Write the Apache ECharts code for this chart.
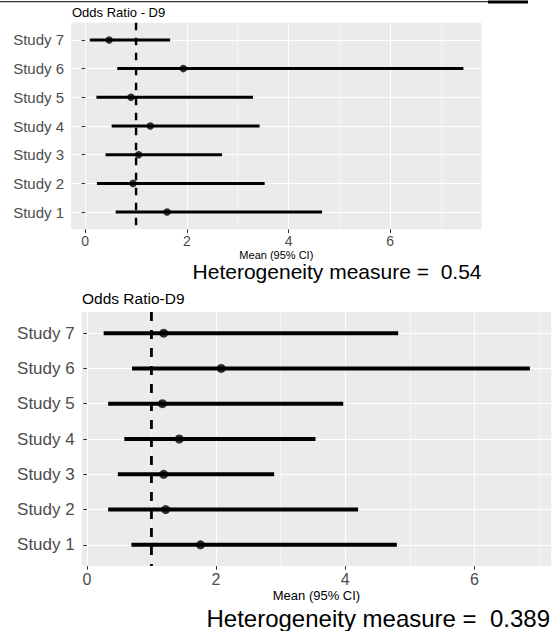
<!DOCTYPE html>
<html>
<head>
<meta charset="utf-8">
<style>
  html, body { margin: 0; padding: 0; background: #fff; }
  #chart { width: 552px; height: 631px; }
</style>
<script src="https://cdn.jsdelivr.net/npm/echarts@6/dist/echarts.min.js"></script>
</head>
<body>
<div id="chart"></div>
<script>
// ---- data ----
const studies = ['Study 1', 'Study 2', 'Study 3', 'Study 4', 'Study 5', 'Study 6', 'Study 7'];
const topLow  = [0.60, 0.23, 0.40, 0.52, 0.22, 0.63, 0.09];
const topMean = [1.61, 0.94, 1.05, 1.28, 0.90, 1.93, 0.47];
const topHigh = [4.66, 3.53, 2.69, 3.43, 3.30, 7.44, 1.67];
const botLow  = [0.69, 0.33, 0.48, 0.58, 0.33, 0.70, 0.26];
const botMean = [1.76, 1.22, 1.19, 1.43, 1.17, 2.08, 1.19];
const botHigh = [4.80, 4.20, 2.90, 3.54, 3.97, 6.86, 4.82];
const xMajorTicks = [0, 2, 4, 6];
const xMinorTicks = [1, 3, 5, 7];
const refValue = 1;
const panelTitles = ['Odds Ratio - D9', 'Odds Ratio-D9'];
const heteroValues = ['0.54', '0.389'];
const xAxisName = 'Mean (95% CI)';

const FONT = '"Liberation Sans", Arial, sans-serif';
const yPos = studies.map((s, i) => i + 1);

const panels = [
  { low: topLow, mean: topMean, high: topHigh, xmin: -0.28, xmax: 7.80,
    grid: { left: 71, top: 22.7, width: 410.7, height: 206.6 },
    yFont: 15, xFont: 14, nameFont: 11, nameGap: 20.5, barW: 3, dot: 7.5, dash: [7.5, 7.5], dashW: 2.4 },
  { low: botLow, mean: botMean, high: botHigh, xmin: -0.08, xmax: 7.19,
    grid: { left: 81.7, top: 312, width: 469.5, height: 254 },
    yFont: 17, xFont: 16, nameFont: 13, nameGap: 23, barW: 4, dot: 9, dash: [9, 9], dashW: 2.8 }
];

const grids = [], xAxes = [], yAxes = [], series = [];
panels.forEach((p, k) => {
  grids.push(Object.assign({ show: true, backgroundColor: '#ebebeb', borderWidth: 0, containLabel: false }, p.grid));
  // major x axis
  xAxes.push({
    type: 'value', gridIndex: k, min: p.xmin, max: p.xmax,
    axisLine: { show: false },
    axisTick: { show: true, length: 3.7, customValues: xMajorTicks, lineStyle: { color: '#333333', width: 1 } },
    axisLabel: { customValues: xMajorTicks, margin: 5, color: '#4d4d4d', fontSize: p.xFont, fontFamily: FONT },
    splitLine: { show: true, lineStyle: { color: '#ffffff', width: 1.1 } },
    name: xAxisName, nameLocation: 'middle', nameGap: p.nameGap,
    nameTextStyle: { color: '#000000', fontSize: p.nameFont, fontFamily: FONT }
  });
  // minor gridlines x
  xAxes.push({
    type: 'value', gridIndex: k, min: p.xmin, max: p.xmax,
    axisLine: { show: false },
    axisTick: { show: false, customValues: xMinorTicks },
    axisLabel: { show: false },
    splitLine: { show: true, lineStyle: { color: '#f7f7f7', width: 0.8 } }
  });
  yAxes.push({
    type: 'value', gridIndex: k, min: 0.4, max: 7.6,
    axisLine: { show: false },
    axisTick: { show: true, length: 3.7, customValues: yPos, lineStyle: { color: '#333333', width: 1 } },
    axisLabel: { customValues: yPos, margin: 7, color: '#4d4d4d', fontSize: p.yFont, fontFamily: FONT,
      formatter: v => studies[Math.round(v) - 1] },
    splitLine: { show: true, lineStyle: { color: '#ffffff', width: 1.1 } }
  });
  const barData = studies.map((s, i) => [p.low[i], p.high[i], i + 1]);
  series.push({
    type: 'custom', xAxisIndex: 2 * k, yAxisIndex: k, data: barData,
    encode: { x: [0, 1], y: 2 },
    renderItem: (params, api) => {
      const y = api.value(2);
      const a = api.coord([api.value(0), y]);
      const b = api.coord([api.value(1), y]);
      return { type: 'line', shape: { x1: a[0], y1: a[1], x2: b[0], y2: b[1] },
        style: { stroke: '#000000', lineWidth: p.barW, lineCap: 'butt' } };
    },
    z: 3, silent: true
  });
  series.push({
    type: 'scatter', xAxisIndex: 2 * k, yAxisIndex: k,
    data: studies.map((s, i) => [p.mean[i], i + 1]),
    symbol: 'circle', symbolSize: p.dot, itemStyle: { color: '#000000' }, z: 4, silent: true
  });
  series.push({
    type: 'line', xAxisIndex: 2 * k, yAxisIndex: k,
    data: [[refValue, 7.6], [refValue, 0.4]],
    showSymbol: false, symbol: 'none',
    lineStyle: { color: '#000000', width: p.dashW, type: p.dash, cap: 'butt' },
    z: 5, silent: true
  });
});

const chart = echarts.init(document.getElementById('chart'), null, { renderer: 'svg', width: 552, height: 631 });
chart.setOption({
  animation: false,
  backgroundColor: '#ffffff',
  grid: grids,
  xAxis: xAxes,
  yAxis: yAxes,
  series: series,
  graphic: [
    { type: 'line', shape: { x1: 0, y1: 1.7, x2: 488, y2: 1.7 }, style: { stroke: '#000', lineWidth: 1 }, silent: true },
    { type: 'rect', shape: { x: 488, y: 0.5, width: 40, height: 3 }, style: { fill: '#000' }, silent: true },
    { type: 'text', left: 72, top: 6, style: { text: panelTitles[0], fill: '#000', fontSize: 13, fontFamily: FONT } },
    { type: 'text', left: 82, top: 290.5, style: { text: panelTitles[1], fill: '#000', fontSize: 15.5, fontFamily: FONT } },
    { type: 'text', right: 552 - 481.5, top: 261, style: { text: 'Heterogeneity measure =  ' + heteroValues[0], fill: '#000', fontSize: 21, fontFamily: FONT } },
    { type: 'text', right: 2, top: 606, style: { text: 'Heterogeneity measure =  ' + heteroValues[1], fill: '#000', fontSize: 24, fontFamily: FONT } }
  ]
});
</script>
</body>
</html>
